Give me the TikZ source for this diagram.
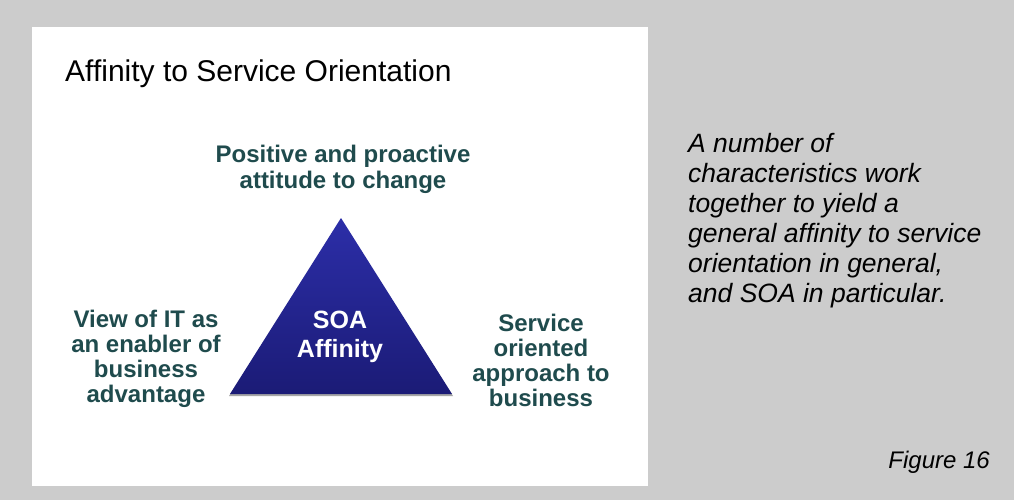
\documentclass[tikz,border=0pt]{standalone}
\usepackage{fontspec}
\setmainfont{Liberation Sans}
\definecolor{slidegray}{HTML}{CCCCCC}
\definecolor{captext}{HTML}{1F4B4D}
\definecolor{soatop}{HTML}{2C2EA8}
\definecolor{soabottom}{HTML}{1B1B76}
\tikzset{
  trait/.style={font=\bfseries\fontsize{24}{24.7}\selectfont, text=captext,
    align=center, inner sep=0pt, anchor=base},
  note/.style={font=\itshape\fontsize{26.5}{30}\selectfont, align=left,
    inner sep=0pt, anchor=base west}
}
\begin{document}
\begin{tikzpicture}[x=1pt,y=-1pt]
  \useasboundingbox (0,0) rectangle (1014,500);
  \fill[slidegray] (0,0) rectangle (1014,500);
  \fill[white] (32,27) rectangle (648,486);
  % the triangle, base line of the text = last line
  \fill[black!35] (229,396) -- (341,220) -- (453,396) -- cycle;
  \shade[top color=soatop, bottom color=soabottom] (230,394) -- (341,218) -- (452,394) -- cycle;
  \node[font=\fontsize{30}{32}\selectfont, anchor=base west, inner sep=0pt] at (65,82) (title) {Affinity to Service Orientation};
  \node[trait, font=\bfseries\fontsize{24}{26.5}\selectfont] at (343,188.5) (attitude) {Positive and proactive\\attitude to change};
  \node[trait] at (146,402) (itview) {View of IT as\\an enabler of\\business\\advantage};
  \node[trait] at (541,406) (approach) {Service\\oriented\\approach to\\business};
  \node[font=\bfseries\fontsize{25}{29}\selectfont, text=white, align=center, inner sep=0pt, anchor=base] at (340,357) (soa) {SOA\\Affinity};
  \node[note] at (688,302) (summary) {A number of\\characteristics work\\together to yield a\\general affinity to service\\orientation in general,\\and SOA in particular.};
  \node[font=\itshape\fontsize{24}{28}\selectfont, anchor=base east, inner sep=0pt] at (990,468) (fignum) {Figure 16};
\end{tikzpicture}
\end{document}
